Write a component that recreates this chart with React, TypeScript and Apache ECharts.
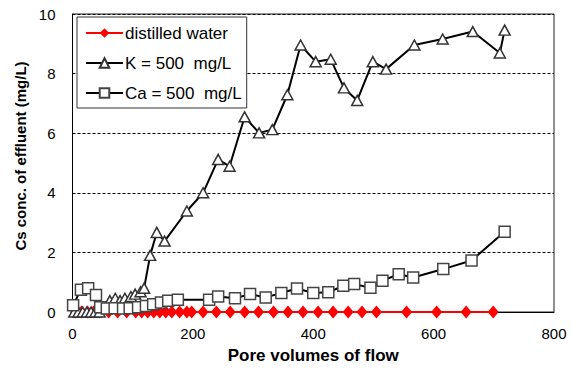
import React, { useEffect, useRef } from "react";
import * as echarts from "echarts";

const seriesNames = ["distilled water", "K = 500  mg/L", "Ca = 500  mg/L"];

const distilledX = [5, 15, 25, 35, 45, 60, 75, 90, 105, 115, 125, 135, 145, 155, 165, 178, 190, 198, 217, 239, 262, 286, 309, 334, 358, 383, 408, 433, 458, 481, 505, 555, 605, 654, 699];
const distilledY = [0, 0, 0, 0, 0, 0, 0, 0, 0, 0, 0, 0, 0, 0, 0, 0, 0, 0, 0, 0, 0, 0, 0, 0, 0, 0, 0, 0, 0, 0, 0, 0, 0, 0, 0];

const kX = [3, 10, 17, 24, 31, 38, 45, 53, 62, 71, 79, 87, 97, 104, 113, 119, 129, 140, 153, 190, 217, 242, 261, 286, 310, 332, 357, 379, 404, 429, 451, 473, 499, 521, 568, 615, 665, 710, 718];
const kY = [0, 0, 0, 0, 0, 0, 0, 0.15, 0.38, 0.46, 0.38, 0.46, 0.52, 0.6, 0.68, 0.8, 1.9, 2.67, 2.38, 3.39, 4.0, 5.12, 4.89, 6.55, 6.01, 6.12, 7.29, 8.96, 8.4, 8.48, 7.52, 7.1, 8.4, 8.15, 8.96, 9.16, 9.41, 8.69, 9.46];

const caX = [1, 14, 26, 39, 46, 57, 70, 84, 95, 109, 122, 134, 147, 159, 175, 227, 242, 270, 295, 321, 347, 373, 400, 425, 450, 468, 495, 515, 542, 566, 616, 663, 718];
const caY = [0.23, 0.75, 0.8, 0.57, 0.16, 0.12, 0.13, 0.12, 0.13, 0.16, 0.2, 0.26, 0.32, 0.38, 0.41, 0.41, 0.52, 0.46, 0.6, 0.49, 0.64, 0.79, 0.64, 0.66, 0.88, 0.94, 0.81, 1.05, 1.27, 1.16, 1.44, 1.73, 2.69];

const xMin = 0, xMax = 800, xStep = 200;
const yMin = 0, yMax = 10, yStep = 2;

const zip = (xs: number[], ys: number[]) => xs.map((x, i) => [x, ys[i]]);

export default function App() {
  const ref = useRef<HTMLDivElement>(null);
  useEffect(() => {
    if (!ref.current) return;
    const chart = echarts.init(ref.current, null, { renderer: "svg" });
    const font = "'Liberation Sans', Arial, sans-serif";
    chart.setOption({
      animation: false,
      backgroundColor: "#fff",
      textStyle: { fontFamily: font },
      grid: {
        left: 72.5,
        right: 18,
        top: 14,
        bottom: 56,
        show: true,
        borderColor: "#222",
        borderWidth: 1,
        backgroundColor: "transparent",
      },
      legend: {
        orient: "vertical",
        left: 77,
        top: 17,
        backgroundColor: "#fff",
        borderColor: "#333",
        borderWidth: 1,
        padding: [7, 5, 6, 8],
        itemWidth: 37,
        itemHeight: 12,
        itemGap: 12,
        textStyle: { fontFamily: font, fontSize: 17, color: "#000", lineHeight: 18, padding: [0, 0, 0, -3] },
        data: seriesNames,
      },
      xAxis: {
        type: "value",
        min: xMin,
        max: xMax,
        interval: xStep,
        name: "Pore volumes of flow",
        nameLocation: "middle",
        nameGap: 35,
        nameTextStyle: { fontFamily: font, fontSize: 17, fontWeight: "bold", color: "#000" },
        axisLine: { show: true, lineStyle: { color: "#000", width: 1 } },
        axisTick: { show: false },
        axisLabel: { fontFamily: font, fontSize: 15, color: "#000", margin: 14 },
        splitLine: { show: false },
      },
      yAxis: {
        type: "value",
        min: yMin,
        max: yMax,
        interval: yStep,
        name: "Cs conc. of effluent (mg/L)",
        nameLocation: "middle",
        nameGap: 37,
        nameTextStyle: { fontFamily: font, fontSize: 15, fontWeight: "bold", color: "#000", padding: [0, 0, 0, 14] },
        axisLine: { show: true, lineStyle: { color: "#000", width: 1 } },
        axisTick: { show: false },
        axisLabel: { fontFamily: font, fontSize: 15, color: "#000", margin: 17 },
        splitLine: { show: true, lineStyle: { color: "#000", width: 1, type: [3, 2] } },
      },
      series: [
        {
          name: seriesNames[0],
          type: "line",
          data: zip(distilledX, distilledY),
          symbol: "diamond",
          symbolSize: [11, 13],
          clip: false,
          lineStyle: { color: "#ff0000", width: 2 },
          itemStyle: { color: "#ff0000", borderWidth: 0 },
          z: 2,
        },
        {
          name: seriesNames[1],
          type: "line",
          data: zip(kX, kY),
          symbol: "triangle",
          symbolSize: [11, 10],
          showAllSymbol: true,
          clip: false,
          lineStyle: { color: "#000", width: 2 },
          itemStyle: { color: "#fff", borderColor: "#333", borderWidth: 1.5 },
          z: 3,
        },
        {
          name: seriesNames[2],
          type: "line",
          data: zip(caX, caY),
          symbol: "rect",
          symbolSize: 11,
          showAllSymbol: true,
          clip: false,
          lineStyle: { color: "#000", width: 2 },
          itemStyle: { color: "#fff", borderColor: "#444", borderWidth: 1.5 },
          z: 4,
        },
      ],
    });
    return () => chart.dispose();
  }, []);
  return (
    <div
      ref={ref}
      style={{ position: "fixed", left: 0, top: 0, width: 572, height: 369, background: "#fff" }}
    />
  );
}
